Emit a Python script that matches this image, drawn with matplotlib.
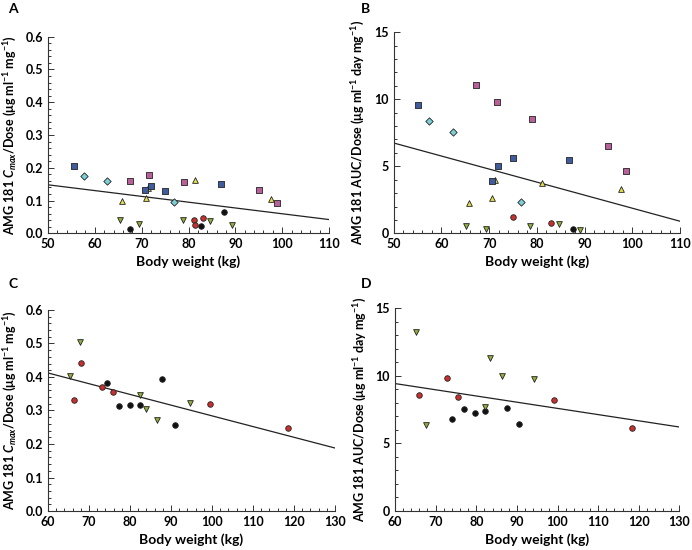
import numpy as np
import matplotlib
matplotlib.use('Agg')
import matplotlib.pyplot as plt
from matplotlib.ticker import MultipleLocator

plt.rcParams['font.family'] = ['Lato', 'DejaVu Sans']
plt.rcParams['font.weight'] = 'bold'
plt.rcParams['mathtext.fontset'] = 'custom'
plt.rcParams['mathtext.rm'] = 'Lato:bold'
plt.rcParams['mathtext.it'] = 'Lato:bold:italic'
plt.rcParams['mathtext.bf'] = 'Lato:bold'

# ---- panel A: Cmax/Dose vs body weight (first study)
a_blue_x = [55.5, 70.8, 71.9, 75.0, 86.9]
a_blue_y = [0.206, 0.133, 0.145, 0.129, 0.150]
a_pink_x = [67.4, 71.6, 79.1, 95.0, 98.8]
a_pink_y = [0.159, 0.179, 0.156, 0.131, 0.093]
a_cyan_x = [57.6, 62.7, 76.8]
a_cyan_y = [0.174, 0.159, 0.097]
a_yel_x = [65.8, 70.9, 71.4, 81.4, 97.6]
a_yel_y = [0.098, 0.107, 0.137, 0.162, 0.105]
a_grn_x = [65.3, 69.5, 78.8, 84.6, 89.2]
a_grn_y = [0.040, 0.029, 0.040, 0.038, 0.026]
a_red_x = [81.2, 81.4, 83.0]
a_red_y = [0.041, 0.026, 0.048]
a_blk_x = [67.4, 82.6, 87.5]
a_blk_y = [0.014, 0.021, 0.064]
a_line_x = [50, 110]
a_line_y = [0.148, 0.042]

# ---- panel B: AUC/Dose vs body weight (first study)
b_blue_x = [55.2, 70.7, 71.8, 74.9, 86.8]
b_blue_y = [9.55, 3.88, 5.05, 5.62, 5.45]
b_pink_x = [67.3, 71.6, 78.9, 94.9, 98.7]
b_pink_y = [11.04, 9.80, 8.55, 6.54, 4.67]
b_cyan_x = [57.4, 62.5, 76.7]
b_cyan_y = [8.40, 7.54, 2.34]
b_yel_x = [65.7, 70.7, 71.3, 81.1, 97.6]
b_yel_y = [2.29, 2.63, 3.95, 3.73, 3.31]
b_grn_x = [65.2, 69.4, 78.6, 84.6, 89.1]
b_grn_y = [0.57, 0.35, 0.57, 0.67, 0.22]
b_red_x = [74.9, 82.9]
b_red_y = [1.24, 0.75]
b_blk_x = [87.5]
b_blk_y = [0.32]
b_line_x = [50, 110]
b_line_y = [6.74, 0.90]

# ---- panel C: Cmax/Dose vs body weight (second study)
c_grn_x = [65.4, 67.9, 82.4, 83.8, 86.5, 94.6]
c_grn_y = [0.404, 0.504, 0.347, 0.304, 0.273, 0.323]
c_red_x = [66.3, 68.1, 73.1, 75.9, 99.6, 118.5]
c_red_y = [0.330, 0.441, 0.371, 0.356, 0.318, 0.249]
c_blk_x = [74.4, 77.3, 80.0, 82.4, 87.7, 90.9]
c_blk_y = [0.381, 0.312, 0.316, 0.315, 0.393, 0.258]
c_line_x = [60, 130]
c_line_y = [0.412, 0.188]

# ---- panel D: AUC/Dose vs body weight (second study)
d_grn_x = [65.1, 67.6, 82.2, 83.5, 86.3, 94.3]
d_grn_y = [13.26, 6.35, 7.69, 11.35, 10.01, 9.79]
d_red_x = [66.0, 72.7, 75.6, 99.2, 118.4]
d_red_y = [8.58, 9.84, 8.43, 8.21, 6.10]
d_blk_x = [74.1, 77.0, 79.7, 82.2, 87.5, 90.6]
d_blk_y = [6.77, 7.56, 7.21, 7.41, 7.64, 6.42]
d_line_x = [60, 130]
d_line_y = [9.42, 6.20]

styles = {
    'blue': dict(marker='s', c='#3f5c9e', s=17),
    'pink': dict(marker='s', c='#b8609a', s=17),
    'cyan': dict(marker='D', c='#7ccfd6', s=14),
    'yel': dict(marker='^', c='#e3df4e', s=17),
    'grn': dict(marker='v', c='#8fae3a', s=17),
    'red': dict(marker='o', c='#c8302f', s=16),
    'blk': dict(marker='o', c='#111111', s=16),
}

fig = plt.figure(figsize=(6.92, 5.5), dpi=100)
axA = fig.add_axes([0.0694, 0.5758, 0.4060, 0.3575])
axB = fig.add_axes([0.5689, 0.5758, 0.4138, 0.3655])
axC = fig.add_axes([0.0694, 0.0709, 0.4147, 0.3655])
axD = fig.add_axes([0.5708, 0.0715, 0.4110, 0.3680])

cmax_lab = r'AMG 181 $C_{max}$/Dose ($\mathrm{\mu}$g ml$^{-1}$ mg$^{-1}$)'
auc_lab = r'AMG 181 AUC/Dose ($\mathrm{\mu}$g ml$^{-1}$ day mg$^{-1}$)'


def draw(ax, groups, line_x, line_y, xlim, ylim, xmaj, xmin, ymaj, ymin, ylab, yfmt):
    for key, xs, ys in groups:
        st = styles[key]
        ax.scatter(xs, ys, marker=st['marker'], c=st['c'], s=st['s'],
                   edgecolors='#222222', linewidths=0.6, zorder=3, clip_on=False)
    ax.plot(line_x, line_y, color='#222222', lw=0.9, zorder=2)
    ax.set_xlim(*xlim)
    ax.set_ylim(*ylim)
    ax.xaxis.set_major_locator(MultipleLocator(xmaj))
    ax.xaxis.set_minor_locator(MultipleLocator(xmin))
    ax.yaxis.set_major_locator(MultipleLocator(ymaj))
    ax.yaxis.set_minor_locator(MultipleLocator(ymin))
    ax.yaxis.set_major_formatter(yfmt)
    for s in ['top', 'right']:
        ax.spines[s].set_visible(False)
    for s in ['left', 'bottom']:
        ax.spines[s].set_linewidth(0.8)
        ax.spines[s].set_color('#333333')
    ax.tick_params(which='both', direction='in', color='#333333', width=0.7)
    ax.tick_params(which='major', length=4, labelsize=9)
    ax.tick_params(which='minor', length=2)
    ax.set_xlabel('Body weight (kg)', fontsize=10, fontweight='bold', labelpad=4)
    ax.set_ylabel(ylab, fontsize=9, fontweight='bold', labelpad=5)


fmt1 = lambda v, p: f'{v:.1f}'
fmt0 = lambda v, p: f'{v:.0f}'

draw(axA, [('blk', a_blk_x, a_blk_y), ('red', a_red_x, a_red_y),
           ('grn', a_grn_x, a_grn_y), ('yel', a_yel_x, a_yel_y),
           ('cyan', a_cyan_x, a_cyan_y), ('pink', a_pink_x, a_pink_y),
           ('blue', a_blue_x, a_blue_y)],
     a_line_x, a_line_y, (50, 110), (0, 0.6), 10, 2, 0.1, 0.02, cmax_lab, fmt1)
draw(axB, [('blk', b_blk_x, b_blk_y), ('red', b_red_x, b_red_y),
           ('grn', b_grn_x, b_grn_y), ('yel', b_yel_x, b_yel_y),
           ('cyan', b_cyan_x, b_cyan_y), ('pink', b_pink_x, b_pink_y),
           ('blue', b_blue_x, b_blue_y)],
     b_line_x, b_line_y, (50, 110), (0, 15), 10, 2, 5, 1, auc_lab, fmt0)
draw(axC, [('blk', c_blk_x, c_blk_y), ('red', c_red_x, c_red_y),
           ('grn', c_grn_x, c_grn_y)],
     c_line_x, c_line_y, (60, 130), (0, 0.6), 10, 2, 0.1, 0.02, cmax_lab, fmt1)
draw(axD, [('blk', d_blk_x, d_blk_y), ('red', d_red_x, d_red_y),
           ('grn', d_grn_x, d_grn_y)],
     d_line_x, d_line_y, (60, 130), (0, 15), 10, 2, 5, 1, auc_lab, fmt0)

for lab, (x, y) in zip('ABCD', [(0.012, 0.994), (0.522, 0.994), (0.012, 0.494), (0.522, 0.494)]):
    fig.text(x, y, lab, fontsize=10, fontweight='bold', ha='left', va='top')

fig.savefig('out.png', dpi=100)
